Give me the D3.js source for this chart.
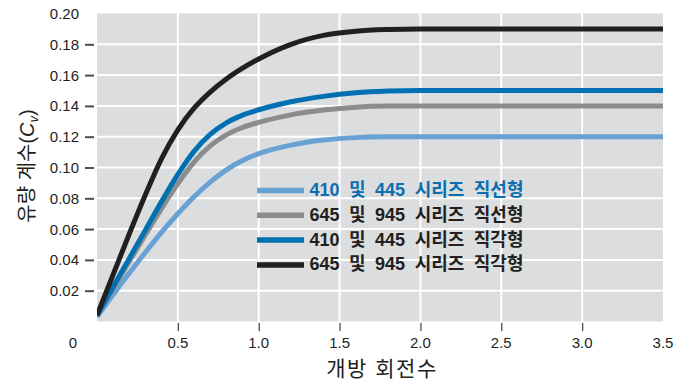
<!DOCTYPE html>
<html><head><meta charset="utf-8">
<script src="https://cdn.jsdelivr.net/npm/d3@7"></script>
<style>
html,body{margin:0;padding:0;background:#fff;}
svg{display:block;}
text{font-family:"Liberation Sans","Noto Sans CJK KR",Arial,sans-serif;fill:#231f20;}
</style></head>
<body>
<svg id="chart" width="691" height="385"></svg>
<script>
const xValues = [0,0.1,0.2,0.3,0.4,0.5,0.6,0.7,0.8,0.9,1.0,1.2,1.4,1.6,1.8,2.0,2.5,3.0,3.5];
const seriesNames = ["410 및 445 시리즈 직선형","645 및 945 시리즈 직선형","410 및 445 시리즈 직각형","645 및 945 시리즈 직각형"];
const lightBlue = [0.003,0.0175,0.0315,0.0450,0.0580,0.0700,0.0810,0.0905,0.0985,0.1045,0.1090,0.1145,0.1178,0.1194,0.1199,0.1200,0.1200,0.1200,0.1200];
const gray      = [0.004,0.0215,0.0390,0.0565,0.0735,0.0895,0.1035,0.1140,0.1212,0.1260,0.1293,0.1342,0.1373,0.1392,0.1399,0.1400,0.1400,0.1400,0.1400];
const darkBlue  = [0.004,0.0225,0.0410,0.0595,0.0780,0.0955,0.1105,0.1215,0.1290,0.1340,0.1375,0.1427,0.1462,0.1485,0.1496,0.1500,0.1500,0.1500,0.1500];
const black     = [0.004,0.0305,0.0570,0.0825,0.1060,0.1245,0.1385,0.1490,0.1575,0.1645,0.1705,0.1800,0.1858,0.1885,0.1896,0.1900,0.1900,0.1900,0.1900];
const seriesValues = [lightBlue, gray, darkBlue, black];
const seriesColors = ["#68a1d3","#8b8c8e","#0070b2","#231f20"];
const legendTextColors = ["#0a6eb0","#231f20","#231f20","#231f20"];
const xTickLabels = ["0.5","1.0","1.5","2.0","2.5","3.0","3.5"];
const xTicks = [0.5,1.0,1.5,2.0,2.5,3.0];
const yTickLabels = ["0.02","0.04","0.06","0.08","0.10","0.12","0.14","0.16","0.18","0.20"];
const yTicks = [0.02,0.04,0.06,0.08,0.10,0.12,0.14,0.16,0.18];
const xTitle = "개방 회전수";

const svg = d3.select("#chart");
const L = 97, R = 663, T = 13.5, B = 321.5;
const x = d3.scaleLinear().domain([0,3.5]).range([L,R]);
const y = d3.scaleLinear().domain([0,0.2]).range([B,T]);

svg.append("rect").attr("x",L).attr("y",T).attr("width",R-L).attr("height",B-T).attr("fill","#dcdddf");

const grid = svg.append("g");
grid.selectAll("line.v").data(xTicks).join("line").attr("class","v")
  .attr("x1",d=>x(d)).attr("x2",d=>x(d)).attr("y1",T).attr("y2",B)
  .attr("stroke","#fff").attr("stroke-width",2);
grid.selectAll("line.h").data(yTicks).join("line").attr("class","h")
  .attr("x1",L).attr("x2",R).attr("y1",d=>y(d)).attr("y2",d=>y(d))
  .attr("stroke","#fff").attr("stroke-width",2);

// y ticks and labels
const yAxis = d3.axisLeft(y).tickValues(yTicks).tickSize(9).tickFormat("");
const gy = svg.append("g").attr("transform",`translate(${L-3},0)`).call(yAxis);
gy.select(".domain").remove();
gy.selectAll(".tick line").attr("stroke","#4d4d4f").attr("stroke-width",2);
svg.append("g").selectAll("text").data(yTickLabels).join("text")
  .attr("x",79).attr("y",d=>y(+d)).attr("dy","0.36em").attr("text-anchor","end")
  .style("font-size","15px").text(d=>d);

// x ticks and labels
const xAxis = d3.axisBottom(x).tickValues(xTicks).tickSize(8).tickFormat("");
const gx = svg.append("g").attr("transform",`translate(0,${B+1.5})`).call(xAxis);
gx.select(".domain").remove();
gx.selectAll(".tick line").attr("stroke","#4d4d4f").attr("stroke-width",1.3);
svg.append("g").selectAll("text").data(xTickLabels).join("text")
  .attr("x",d=>x(+d)).attr("y",343).attr("dy","0.36em").attr("text-anchor","middle")
  .style("font-size","15px").text(d=>d);
svg.append("text").attr("x",73).attr("y",343).attr("dy","0.36em").attr("text-anchor","middle")
  .style("font-size","15px").text("0");

// titles
svg.append("text").attr("x",382).attr("y",368).attr("dy","0.36em").attr("text-anchor","middle")
  .style("font-size","21px").style("letter-spacing","1.5px").text(xTitle);
const yt = svg.append("text").attr("transform","translate(27,166) rotate(-90)")
  .attr("text-anchor","middle").attr("dy","0.36em").style("font-size","20px");
yt.append("tspan").text("유량 계수(");
yt.append("tspan").style("font-style","italic").text("C");
yt.append("tspan").style("font-style","italic").style("font-size","13px").attr("dy","4").text("v");
yt.append("tspan").attr("dy","-4").text(")");

// lines
svg.append("clipPath").attr("id","clip").append("rect").attr("x",L).attr("y",T).attr("width",R-L).attr("height",B-T);
const line = d3.line().x((d,i)=>x(xValues[i])).y(d=>y(d)).curve(d3.curveMonotoneX);
svg.append("g").attr("clip-path","url(#clip)").selectAll("path").data(seriesValues).join("path")
  .attr("d",d=>line(d)).attr("fill","none")
  .attr("stroke",(d,i)=>seriesColors[i]).attr("stroke-width",5).attr("stroke-linejoin","round");

// legend
const lg = svg.append("g");
const rowY = i => 189.5 + i*24.8;
lg.selectAll("line").data(seriesNames).join("line")
  .attr("x1",257).attr("x2",304).attr("y1",(d,i)=>rowY(i)+1).attr("y2",(d,i)=>rowY(i)+1)
  .attr("stroke",(d,i)=>seriesColors[i]).attr("stroke-width",5.5);
lg.selectAll("text").data(seriesNames).join("text")
  .attr("x",309.5).attr("y",(d,i)=>rowY(i)).attr("dy","0.36em")
  .style("font-size","18px").style("font-weight","bold").style("word-spacing","4.5px")
  .style("fill",(d,i)=>legendTextColors[i]).text(d=>d);
</script>
</body></html>
